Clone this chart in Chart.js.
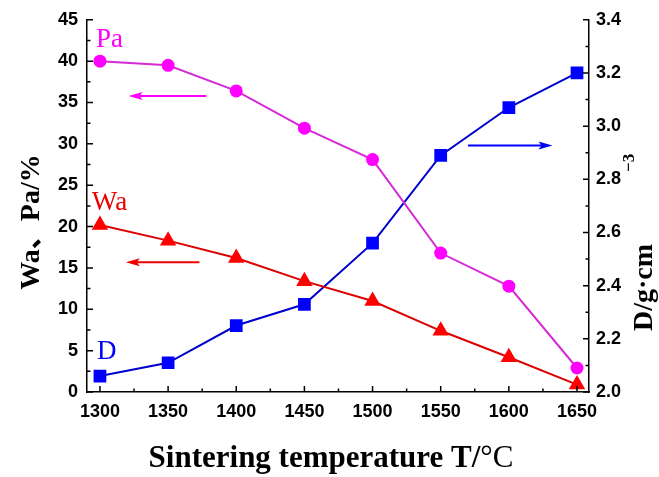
<!DOCTYPE html>
<html lang="en">
<head>
    <meta charset="UTF-8">
    <title>Sintering temperature</title>
    <style>
        html, body { margin: 0; padding: 0; background: #fff; }
        #chart-container { width: 659px; height: 477px; }
    </style>
</head>
<body>
    <div id="chart-container">
        <canvas id="sinter-chart" width="659" height="477"></canvas>
    </div>

    <script src="https://cdn.jsdelivr.net/npm/chart.js"></script>
    <script>
        // data
        const temps = [1300, 1350, 1400, 1450, 1500, 1550, 1600, 1650];
        const paValues = [40.0, 39.5, 36.4, 31.9, 28.1, 16.8, 12.8, 2.9];
        const waValues = [20.2, 18.3, 16.2, 13.4, 11.0, 7.4, 4.2, 0.9];
        const dValues = [2.06, 2.11, 2.25, 2.33, 2.56, 2.89, 3.07, 3.20];

        const xTicks = [1300, 1350, 1400, 1450, 1500, 1550, 1600, 1650];
        const leftTicks = [0, 5, 10, 15, 20, 25, 30, 35, 40, 45];
        const rightTicks = [2.0, 2.2, 2.4, 2.6, 2.8, 3.0, 3.2, 3.4];

        // curve labels and arrows, in data units (x, left axis)
        const curveLabels = [
            { text: 'Pa', x: 1307, y: 42.6, color: '#ff00ff' },
            { text: 'Wa', x: 1307, y: 22.9, color: '#ee0000' },
            { text: 'D', x: 1305, y: 4.8, color: '#0000ff' }
        ];
        const arrows = [
            { from: 1378, to: 1321, y: 35.8, color: '#ff00ff' },
            { from: 1373, to: 1319, y: 15.7, color: '#ee0000' },
            { from: 1570, to: 1632, y: 29.8, color: '#0000ff' }
        ];

        const tickFont = { family: 'Liberation Sans', size: 18, weight: 'bold' };

        function toPoints(ys) {
            return temps.map((t, i) => ({ x: t, y: ys[i] }));
        }

        // ticks point inward, like Origin
        const innerTicks = {
            id: 'innerTicks',
            afterDatasetsDraw(chart) {
                const ctx = chart.ctx;
                const area = chart.chartArea;
                const sx = chart.scales.x, sy = chart.scales.y, sy2 = chart.scales.y2;
                ctx.save();
                ctx.strokeStyle = '#000';
                ctx.lineWidth = 1.5;
                ctx.beginPath();
                xTicks.forEach((v, i) => {
                    const px = sx.getPixelForValue(v);
                    ctx.moveTo(px, area.bottom); ctx.lineTo(px, area.bottom - 6);
                    if (i < xTicks.length - 1) {
                        const mx = sx.getPixelForValue(v + 25);
                        ctx.moveTo(mx, area.bottom); ctx.lineTo(mx, area.bottom - 3.5);
                    }
                });
                leftTicks.forEach((v, i) => {
                    const py = sy.getPixelForValue(v);
                    ctx.moveTo(area.left, py); ctx.lineTo(area.left + 6, py);
                    if (i < leftTicks.length - 1) {
                        const my = sy.getPixelForValue(v + 2.5);
                        ctx.moveTo(area.left, my); ctx.lineTo(area.left + 3.5, my);
                    }
                });
                rightTicks.forEach((v, i) => {
                    const py = sy2.getPixelForValue(v);
                    ctx.moveTo(area.right, py); ctx.lineTo(area.right - 6, py);
                    if (i < rightTicks.length - 1) {
                        const my = sy2.getPixelForValue(v + 0.1);
                        ctx.moveTo(area.right, my); ctx.lineTo(area.right - 3.5, my);
                    }
                });
                ctx.stroke();
                ctx.restore();
            }
        };

        // Pa / Wa / D labels, arrows and the axis titles
        const annotations = {
            id: 'annotations',
            afterDraw(chart) {
                const ctx = chart.ctx;
                const sx = chart.scales.x, sy = chart.scales.y;
                ctx.save();
                ctx.textAlign = 'center';
                ctx.textBaseline = 'middle';
                ctx.font = '27px "Liberation Serif"';
                curveLabels.forEach(l => {
                    ctx.fillStyle = l.color;
                    ctx.fillText(l.text, sx.getPixelForValue(l.x), sy.getPixelForValue(l.y));
                });

                arrows.forEach(a => {
                    const x1 = sx.getPixelForValue(a.from);
                    const x2 = sx.getPixelForValue(a.to);
                    const y = sy.getPixelForValue(a.y);
                    const dir = x2 > x1 ? 1 : -1;
                    ctx.strokeStyle = a.color;
                    ctx.fillStyle = a.color;
                    ctx.lineWidth = 2;
                    ctx.beginPath();
                    ctx.moveTo(x1, y);
                    ctx.lineTo(x2 - dir * 8, y);
                    ctx.stroke();
                    ctx.beginPath();
                    ctx.moveTo(x2, y);
                    ctx.lineTo(x2 - dir * 14, y - 4);
                    ctx.lineTo(x2 - dir * 11, y);
                    ctx.lineTo(x2 - dir * 14, y + 4);
                    ctx.closePath();
                    ctx.fill();
                });

                ctx.fillStyle = '#000';
                // x title, the degree sign is not bold in the original
                ctx.textBaseline = 'alphabetic';
                ctx.textAlign = 'left';
                const boldPart = 'Sintering temperature T/';
                const normPart = '°C';
                ctx.font = 'bold 31px "Liberation Serif"';
                const wb = ctx.measureText(boldPart).width;
                ctx.font = '31px "Liberation Serif"';
                const wn = ctx.measureText(normPart).width;
                const startX = 331 - (wb + wn) / 2;
                ctx.font = 'bold 31px "Liberation Serif"';
                ctx.fillText(boldPart, startX, 467);
                ctx.font = '31px "Liberation Serif"';
                ctx.fillText(normPart, startX + wb, 467);

                // left title
                ctx.save();
                ctx.translate(32, 222);
                ctx.rotate(-Math.PI / 2);
                ctx.textAlign = 'center';
                ctx.textBaseline = 'middle';
                ctx.font = 'bold 28px "Liberation Serif", "Noto Sans CJK SC"';
                ctx.fillText('Wa、Pa/%', 0, 0);
                ctx.restore();

                // right title with superscript
                ctx.save();
                ctx.translate(642, 331);
                ctx.rotate(-Math.PI / 2);
                ctx.textAlign = 'left';
                ctx.textBaseline = 'alphabetic';
                ctx.font = 'bold 28px "Liberation Serif"';
                const main = 'D/g·cm';
                ctx.fillText(main, 0, 10);
                const w = ctx.measureText(main).width;
                ctx.font = 'bold 17px "Liberation Serif"';
                ctx.fillText('−3', w + 72, -8);
                ctx.restore();
                ctx.restore();
            }
        };

        const ctx = document.getElementById('sinter-chart').getContext('2d');
        const chart = new Chart(ctx, {
            type: 'line',
            data: {
                datasets: [
                    {
                        label: 'Pa',
                        data: toPoints(paValues),
                        yAxisID: 'y',
                        borderColor: '#d62ad6',
                        backgroundColor: '#ff00ff',
                        pointStyle: 'circle',
                        pointRadius: 6.5,
                        pointBorderWidth: 0,
                        borderWidth: 2,
                        tension: 0
                    },
                    {
                        label: 'Wa',
                        data: toPoints(waValues),
                        yAxisID: 'y',
                        borderColor: '#dd0000',
                        backgroundColor: '#ff0000',
                        pointStyle: 'triangle',
                        pointRadius: 9.5,
                        pointBorderWidth: 0,
                        borderWidth: 2,
                        tension: 0
                    },
                    {
                        label: 'D',
                        data: toPoints(dValues),
                        yAxisID: 'y2',
                        borderColor: '#0000cc',
                        backgroundColor: '#0000ff',
                        pointStyle: 'rect',
                        pointRadius: 9,
                        pointBorderWidth: 0,
                        borderWidth: 2,
                        tension: 0
                    }
                ]
            },
            options: {
                responsive: false,
                animation: false,
                events: [],
                layout: { padding: { top: 17, left: 0, right: 0, bottom: 0 } },
                plugins: {
                    legend: { display: false },
                    tooltip: { enabled: false }
                },
                scales: {
                    x: {
                        type: 'linear',
                        min: 1290.5,
                        max: 1658.8,
                        afterBuildTicks: s => { s.ticks = xTicks.map(v => ({ value: v })); },
                        afterFit: s => { s.height = 85; },
                        grid: { display: false, drawTicks: false },
                        border: { display: true, color: '#000', width: 1.5 },
                        ticks: {
                            color: '#000',
                            font: tickFont,
                            padding: 9,
                            maxRotation: 0,
                            callback: v => String(v)
                        }
                    },
                    y: {
                        position: 'left',
                        min: 0,
                        max: 45,
                        afterBuildTicks: s => { s.ticks = leftTicks.map(v => ({ value: v })); },
                        afterFit: s => { s.width = 87; },
                        grid: { display: false, drawTicks: false },
                        border: { display: true, color: '#000', width: 1.5 },
                        ticks: { color: '#000', font: tickFont, padding: 9 }
                    },
                    y2: {
                        position: 'right',
                        min: 2.0,
                        max: 3.4,
                        afterBuildTicks: s => { s.ticks = rightTicks.map(v => ({ value: v })); },
                        afterFit: s => { s.width = 70; },
                        grid: { display: false, drawTicks: false },
                        border: { display: true, color: '#000', width: 1.5 },
                        ticks: {
                            color: '#000',
                            font: tickFont,
                            padding: 7,
                            callback: v => Number(v).toFixed(1)
                        }
                    }
                }
            },
            plugins: [innerTicks, annotations]
        });
    </script>
</body>
</html>
